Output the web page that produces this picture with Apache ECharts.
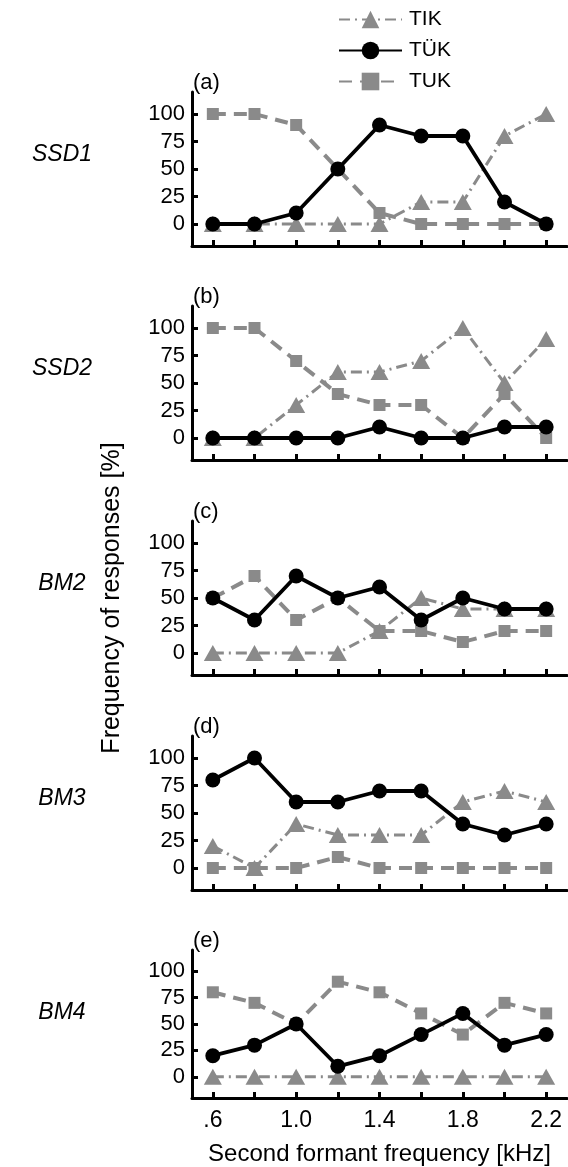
<!DOCTYPE html>
<html><head><meta charset="utf-8">
<script src="https://cdn.jsdelivr.net/npm/echarts@6/dist/echarts.min.js"></script>
<style>html,body{margin:0;padding:0;background:#fff}#c{width:568px;height:1167px}</style>
</head><body><div id="c"></div>
<script>
// x categories (second formant frequency, kHz)
const categories = ['.6', '.8', '1.0', '1.2', '1.4', '1.6', '1.8', '2.0', '2.2'];
const yTicks = [0, 25, 50, 75, 100];
const panelNames = ['SSD1', 'SSD2', 'BM2', 'BM3', 'BM4'];
const panelTags = ['(a)', '(b)', '(c)', '(d)', '(e)'];
const seriesNames = ['TIK', 'TÜK', 'TUK'];

// values (% responses)
const tikSSD1 = [0, 0, 0, 0, 0, 20, 20, 80, 100];
const tukUmSSD1 = [0, 0, 10, 50, 90, 80, 80, 20, 0];
const tukSSD1 = [100, 100, 90, 50, 10, 0, 0, 0, 0];

const tikSSD2 = [0, 0, 30, 60, 60, 70, 100, 50, 90];
const tukUmSSD2 = [0, 0, 0, 0, 10, 0, 0, 10, 10];
const tukSSD2 = [100, 100, 70, 40, 30, 30, 0, 40, 0];

const tikBM2 = [0, 0, 0, 0, 20, 50, 40, 40, 40];
const tukUmBM2 = [50, 30, 70, 50, 60, 30, 50, 40, 40];
const tukBM2 = [50, 70, 30, 50, 20, 20, 10, 20, 20];

const tikBM3 = [20, 0, 40, 30, 30, 30, 60, 70, 60];
const tukUmBM3 = [80, 100, 60, 60, 70, 70, 40, 30, 40];
const tukBM3 = [0, 0, 0, 10, 0, 0, 0, 0, 0];

const tikBM4 = [0, 0, 0, 0, 0, 0, 0, 0, 0];
const tukUmBM4 = [20, 30, 50, 10, 20, 40, 60, 30, 40];
const tukBM4 = [80, 70, 50, 90, 80, 60, 40, 70, 60];

const panelData = [
  [tikSSD1, tukUmSSD1, tukSSD1],
  [tikSSD2, tukUmSSD2, tukSSD2],
  [tikBM2, tukUmBM2, tukBM2],
  [tikBM3, tukUmBM3, tukBM3],
  [tikBM4, tukUmBM4, tukBM4]
];

const FONT = "'Liberation Sans', Arial, sans-serif";
const GRAY = '#8a8a8a';
const gridTops = [92, 306, 521, 736, 950];
const gridH = 154;

const grids = [], xAxes = [], yAxes = [], series = [], graphics = [];
gridTops.forEach((top, i) => {
  grids.push({ left: 192, right: 1, top: top, height: gridH });
  const last = i === gridTops.length - 1;
  xAxes.push({
    type: 'category', gridIndex: i, data: categories, boundaryGap: true,
    axisLine: { show: true, onZero: false, lineStyle: { color: '#000', width: 3 } },
    axisTick: { show: true, inside: true, length: 6, alignWithLabel: true, interval: 0, lineStyle: { color: '#000', width: 3 } },
    axisLabel: { show: last, interval: 1, color: '#000', fontSize: 23, fontFamily: FONT, margin: 11 },
    name: last ? 'Second formant frequency [kHz]' : '',
    nameLocation: 'middle', nameGap: 44,
    nameTextStyle: { color: '#000', fontSize: 24, fontFamily: FONT },
    splitLine: { show: false }
  });
  yAxes.push({
    type: 'value', gridIndex: i, min: -20, max: 120,
    axisLine: { show: true, onZero: false, lineStyle: { color: '#000', width: 3 } },
    axisTick: { show: true, inside: true, length: 6, customValues: yTicks, lineStyle: { color: '#000', width: 3 } },
    axisLabel: { color: '#000', fontSize: 22, fontFamily: FONT, margin: 7, customValues: yTicks },
    splitLine: { show: false }
  });
  const d = panelData[i];
  series.push({
    name: 'TUK', type: 'line', xAxisIndex: i, yAxisIndex: i, data: d[2], z: 2,
    symbol: 'rect', symbolSize: 12, showAllSymbol: true,
    lineStyle: { color: GRAY, width: 4, type: [13, 8] },
    itemStyle: { color: GRAY }
  });
  series.push({
    name: 'TIK', type: 'line', xAxisIndex: i, yAxisIndex: i, data: d[0], z: 3,
    symbol: 'triangle', symbolSize: [18, 16], showAllSymbol: true,
    lineStyle: { color: GRAY, width: 3, type: [11, 5, 2, 5] },
    itemStyle: { color: GRAY }
  });
  series.push({
    name: 'TÜK', type: 'line', xAxisIndex: i, yAxisIndex: i, data: d[1], z: 4,
    symbol: 'circle', symbolSize: 15, showAllSymbol: true,
    lineStyle: { color: '#000', width: 3.8 },
    itemStyle: { color: '#000' }
  });
  graphics.push({
    type: 'text', left: 193, top: top - 20,
    style: { text: panelTags[i], font: '22px ' + FONT, fill: '#000' }
  });
  graphics.push({
    type: 'text', x: 62, y: top + 63,
    style: { text: panelNames[i], font: 'italic 23px ' + FONT, fill: '#000', align: 'center', verticalAlign: 'middle' }
  });
});
graphics.push({
  type: 'text', x: 112, y: 598, rotation: Math.PI / 2,
  style: { text: 'Frequency of responses [%]', font: '25px ' + FONT, fill: '#000', align: 'center', verticalAlign: 'middle' }
});

const chart = echarts.init(document.getElementById('c'), null, { renderer: 'canvas' });
chart.setOption({
  animation: false,
  backgroundColor: '#fff',
  legend: {
    data: ['TIK', 'TÜK', 'TUK'], orient: 'vertical', left: 333, top: 4,
    itemWidth: 63, itemHeight: 22, itemGap: 10,
    textStyle: { color: '#000', fontSize: 21, fontFamily: FONT, padding: [0, 0, 0, 2] }
  },
  grid: grids, xAxis: xAxes, yAxis: yAxes, series: series, graphic: graphics
});
</script></body></html>
